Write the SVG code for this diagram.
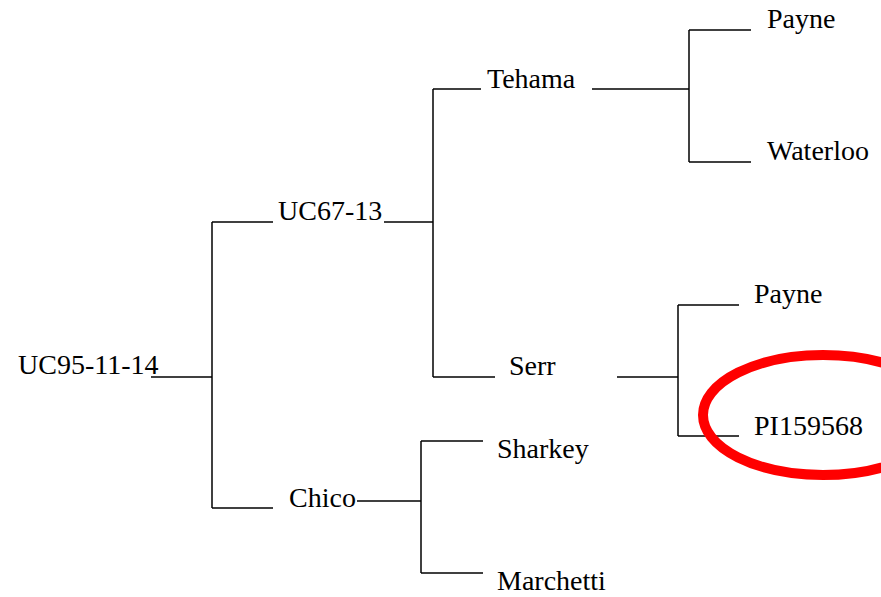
<svg xmlns="http://www.w3.org/2000/svg" width="881" height="597" viewBox="0 0 881 597">
<style>
.t{font-family:"Liberation Serif","Times New Roman",serif;font-size:28px;fill:#000}
.c line{stroke:#000;stroke-width:1.5;fill:none}
</style>
<rect width="881" height="597" fill="#fff"/>
<g class="c" id="connectors">
<line x1="151" y1="377" x2="212" y2="377"/>
<line x1="212" y1="222" x2="212" y2="508"/>
<line x1="212" y1="222" x2="273" y2="222"/>
<line x1="212" y1="508" x2="273" y2="508"/>
<line x1="384" y1="222" x2="433" y2="222"/>
<line x1="433" y1="89" x2="433" y2="377"/>
<line x1="433" y1="89" x2="481" y2="89"/>
<line x1="433" y1="377" x2="495" y2="377"/>
<line x1="592" y1="89" x2="689" y2="89"/>
<line x1="689" y1="30" x2="689" y2="162"/>
<line x1="689" y1="30" x2="751" y2="30"/>
<line x1="689" y1="162" x2="751" y2="162"/>
<line x1="617" y1="377" x2="678" y2="377"/>
<line x1="678" y1="305" x2="678" y2="436"/>
<line x1="678" y1="305" x2="739" y2="305"/>
<line x1="678" y1="436" x2="739" y2="436"/>
<line x1="357" y1="501" x2="421" y2="501"/>
<line x1="421" y1="441" x2="421" y2="573"/>
<line x1="421" y1="441" x2="483" y2="441"/>
<line x1="421" y1="573" x2="483" y2="573"/>
</g>
<g id="n-uc95"><text class="t" x="18" y="374">UC95-11-14</text></g>
<g id="n-uc67"><text class="t" x="278" y="220">UC67-13</text></g>
<g id="n-chico"><text class="t" x="289" y="507">Chico</text></g>
<g id="n-tehama"><text class="t" x="487" y="88">Tehama</text></g>
<g id="n-serr"><text class="t" x="509" y="375">Serr</text></g>
<g id="n-payne1"><text class="t" x="767" y="28">Payne</text></g>
<g id="n-waterloo"><text class="t" x="767" y="160">Waterloo</text></g>
<g id="n-payne2"><text class="t" x="754" y="303">Payne</text></g>
<g id="n-pi"><text class="t" x="754" y="435">PI159568</text></g>
<g id="n-sharkey"><text class="t" x="497" y="458">Sharkey</text></g>
<g id="n-marchetti"><text class="t" x="497" y="590">Marchetti</text></g>
<ellipse id="highlight" cx="823" cy="415" rx="120" ry="60" fill="none" stroke="#ff0000" stroke-width="10"/>
</svg>
